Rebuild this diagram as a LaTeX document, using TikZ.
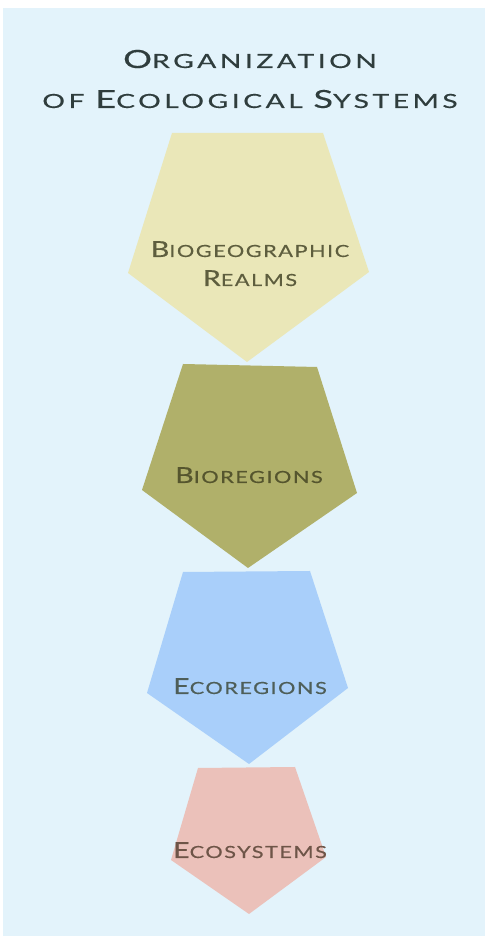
\documentclass[tikz,border=0pt]{standalone}
\usepackage{fontspec}
\setmainfont{Lato}
\newfontfamily\titlefont{Lato}[FakeStretch=1.45,LetterSpace=18,FakeBold=0.4]
\newfontfamily\pentfont{Lato}[FakeStretch=1.3,LetterSpace=9,FakeBold=0.4]
\definecolor{bgblue}{HTML}{E3F3FB}
\definecolor{pyellow}{HTML}{EAE7B8}
\definecolor{polive}{HTML}{B0B06A}
\definecolor{pblue}{HTML}{A9CFFA}
\definecolor{ppink}{HTML}{EBC1BA}
\definecolor{ttitle}{HTML}{2F3D3D}
\definecolor{tyellow}{HTML}{5E5E3E}
\definecolor{tolive}{HTML}{55552E}
\definecolor{tblue}{HTML}{4E5E58}
\definecolor{tpink}{HTML}{6E5548}
% fake small caps: #1 = big letter, #2 = rest
\newcommand\tbig[2]{{\fontsize{25}{40}\selectfont #1}{\fontsize{19.5}{40}\selectfont #2}}
\newcommand\pbig[2]{{\fontsize{22}{29}\selectfont #1}{\fontsize{16.7}{29}\selectfont #2}}
\begin{document}
\begin{tikzpicture}[x=1pt,y=1pt,
  lbl/.style={inner sep=0pt, anchor=base, align=center},
  ttl/.style={lbl, text=ttitle, font=\titlefont\fontsize{25}{40}\selectfont},
  ptxt/.style={lbl, font=\pentfont\fontsize{22}{29}\selectfont}]
\useasboundingbox (0,0) rectangle (485,936);
\fill[white] (0,0) rectangle (485,936);
\fill[bgblue] (3,0) rectangle (485,928);
% pentagons (image y -> 936 - y)
\fill[pyellow] (172,803) -- (323,803) -- (369,664) -- (247,574) -- (128,663) -- cycle;
\fill[polive] (183,572) -- (317,569) -- (357,443) -- (248,368) -- (142,446) -- cycle;
\fill[pblue] (183,364) -- (310,365) -- (348,248) -- (249,172) -- (147,243) -- cycle;
\fill[ppink] (198,168) -- (295,169) -- (326,79) -- (249,22) -- (171,76) -- cycle;
% texts (base anchor = baseline of last line)
\node[ttl] (title) at (250,828) {\tbig{O}{RGANIZATION}\\\tbig{}{OF }\tbig{E}{COLOGICAL }\tbig{S}{YSTEMS}};
\node[ptxt, text=tyellow] (realms) at (250,650) {\pbig{B}{IOGEOGRAPHIC}\\\pbig{R}{EALMS}};
\node[ptxt, text=tolive] (bioreg) at (249,453) {\pbig{B}{IOREGIONS}};
\node[ptxt, text=tblue] (ecoreg) at (250,242) {\pbig{E}{COREGIONS}};
\node[ptxt, text=tpink] (ecosys) at (250,78) {\pbig{E}{COSYSTEMS}};
\end{tikzpicture}
\end{document}
